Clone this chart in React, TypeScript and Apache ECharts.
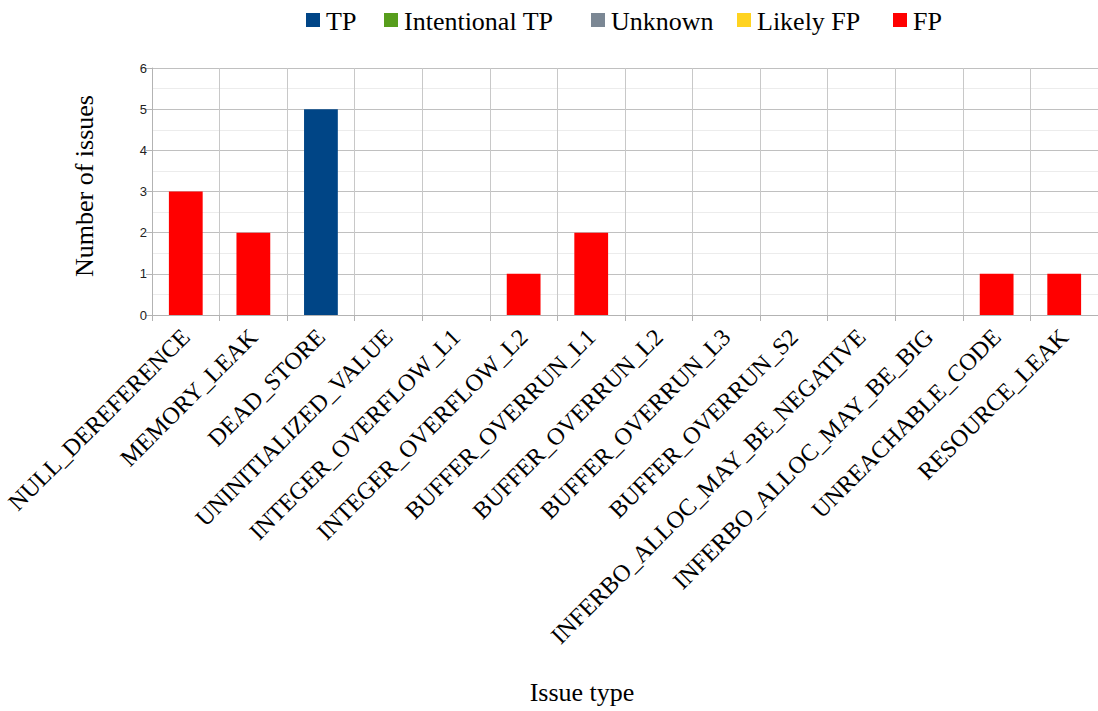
import React, { useEffect, useRef } from "react";
import * as echarts from "echarts";

const categories = [
  "NULL_DEREFERENCE",
  "MEMORY_LEAK",
  "DEAD_STORE",
  "UNINITIALIZED_VALUE",
  "INTEGER_OVERFLOW_L1",
  "INTEGER_OVERFLOW_L2",
  "BUFFER_OVERRUN_L1",
  "BUFFER_OVERRUN_L2",
  "BUFFER_OVERRUN_L3",
  "BUFFER_OVERRUN_S2",
  "INFERBO_ALLOC_MAY_BE_NEGATIVE",
  "INFERBO_ALLOC_MAY_BE_BIG",
  "UNREACHABLE_CODE",
  "RESOURCE_LEAK",
];

const tpValues = [0, 0, 5, 0, 0, 0, 0, 0, 0, 0, 0, 0, 0, 0];
const intentionalTpValues = [0, 0, 0, 0, 0, 0, 0, 0, 0, 0, 0, 0, 0, 0];
const unknownValues = [0, 0, 0, 0, 0, 0, 0, 0, 0, 0, 0, 0, 0, 0];
const likelyFpValues = [0, 0, 0, 0, 0, 0, 0, 0, 0, 0, 0, 0, 0, 0];
const fpValues = [3, 2, 0, 0, 0, 1, 2, 0, 0, 0, 0, 0, 1, 1];

const seriesNames = ["TP", "Intentional TP", "Unknown", "Likely FP", "FP"];
const seriesColors = ["#004586", "#579d1c", "#7b8794", "#ffd320", "#ff0000"];
const seriesValues = [tpValues, intentionalTpValues, unknownValues, likelyFpValues, fpValues];

const yTicks = [0, 1, 2, 3, 4, 5, 6];

// layout only: left edge of each legend icon
const legendIconX = [306, 384, 591, 737, 893];

const SERIF = "Liberation Serif";
const SANS = "Liberation Sans";

function buildLegend() {
  const elements: any[] = [];
  const iconSize = 14;
  const iconGap = 6;
  const cy = 20;
  seriesNames.forEach((name, i) => {
    const x = legendIconX[i];
    elements.push({
      type: "rect",
      shape: { x, y: cy - iconSize / 2, width: iconSize, height: iconSize },
      style: { fill: seriesColors[i] },
    });
    elements.push({
      type: "text",
      x: x + iconSize + iconGap,
      y: cy + 1,
      style: {
        text: name,
        fontFamily: SERIF,
        fontSize: 26,
        fill: "#000",
        textAlign: "left",
        textVerticalAlign: "middle",
      },
    });
  });
  return elements;
}

export default function App() {
  const ref = useRef<HTMLDivElement>(null);

  useEffect(() => {
    if (!ref.current) return;
    const chart = echarts.init(ref.current, null, { renderer: "svg" });
    chart.setOption({
      animation: false,
      backgroundColor: "#ffffff",
      textStyle: { fontFamily: SERIF },
      grid: { left: 152, right: 0, top: 68, bottom: 396, containLabel: false },
      xAxis: {
        type: "category",
        data: categories,
        boundaryGap: true,
        axisLine: { show: true, lineStyle: { color: "#b3b3b3", width: 1 } },
        axisTick: { show: true, length: 6, lineStyle: { color: "#b3b3b3" } },
        splitLine: { show: true, lineStyle: { color: "#c8c8c8", width: 1 } },
        axisLabel: {
          interval: 0,
          rotate: 45,
          margin: 18,
          fontFamily: SERIF,
          fontSize: 24,
          color: "#000",
        },
      },
      yAxis: {
        type: "value",
        min: yTicks[0],
        max: yTicks[yTicks.length - 1],
        interval: 1,
        axisLine: { show: true, lineStyle: { color: "#b3b3b3", width: 1 } },
        axisTick: { show: true, length: 6, lineStyle: { color: "#b3b3b3" } },
        axisLabel: { fontFamily: SANS, fontSize: 13, color: "#222", margin: 5 },
        splitLine: { show: true, lineStyle: { color: "#c0c0c0", width: 1 } },
        minorTick: { show: false, splitNumber: 2 },
        minorSplitLine: { show: true, lineStyle: { color: "#ececec", width: 1 } },
      },
      graphic: [
        ...buildLegend(),
        {
          type: "text",
          x: 84,
          y: 186,
          rotation: Math.PI / 2,
          style: {
            text: "Number of issues",
            fontFamily: SERIF,
            fontSize: 26,
            fill: "#000",
            textAlign: "center",
            textVerticalAlign: "middle",
          },
        },
        {
          type: "text",
          x: 582,
          y: 692,
          style: {
            text: "Issue type",
            fontFamily: SERIF,
            fontSize: 26,
            fill: "#000",
            textAlign: "center",
            textVerticalAlign: "middle",
          },
        },
      ],
      series: seriesNames.map((name, i) => ({
        name,
        type: "bar",
        stack: "total",
        barWidth: "50%",
        itemStyle: { color: seriesColors[i] },
        data: seriesValues[i],
      })),
    });
    return () => chart.dispose();
  }, []);

  return (
    <div
      ref={ref}
      style={{ position: "fixed", left: 0, top: 0, width: 1098, height: 711 }}
    />
  );
}
